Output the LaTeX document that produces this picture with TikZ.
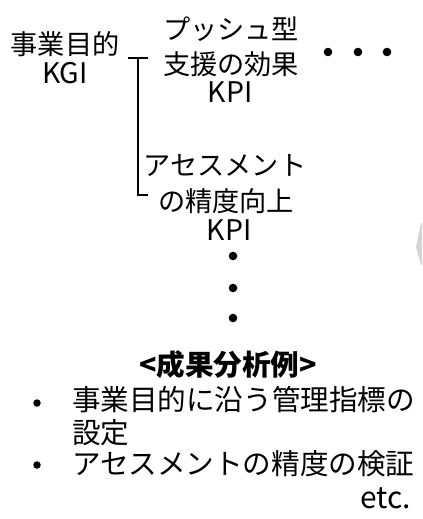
\documentclass[tikz,border=0pt]{standalone}
\usepackage{fontspec}
\setmainfont{Noto Sans CJK JP}
\definecolor{sliver}{RGB}{212,212,212}
\begin{document}
\begin{tikzpicture}[x=1bp,y=-1bp,
  lbl/.style={inner sep=0pt,outer sep=0pt,anchor=base,font=\fontsize{27.3}{30}\selectfont},
  lst/.style={inner sep=0pt,outer sep=0pt,anchor=base west,font=\fontsize{28.7}{32}\selectfont},
  bigdot/.style={circle,fill=black,inner sep=0pt,minimum size=8.6bp},
  smalldot/.style={circle,fill=black,inner sep=0pt,minimum size=7.5bp},
  brk/.style={line width=2bp,black}]
\useasboundingbox (0,0) rectangle (422,519);
% KGI block
\node[lbl] (kgi1) at (65,55) {事業目的};
\node[lbl,font=\fontsize{28.5}{30}\selectfont] (kgi2) at (65,84) {KGI};
% KPI block 1
\node[lbl] (pa1) at (231,40) {プッシュ型};
\node[lbl] (pa2) at (231,75) {支援の効果};
\node[lbl,font=\fontsize{28.5}{30}\selectfont] (pa3) at (230,103) {KPI};
% KPI block 2
\node[lbl] (pb1) at (225,176) {アセスメント};
\node[lbl] (pb2) at (226,211) {の精度向上};
\node[lbl,font=\fontsize{28.5}{30}\selectfont] (pb3) at (229,240) {KPI};
% bracket
\coordinate (ba) at (128,58);
\coordinate (bb) at (148,58);
\coordinate (bt) at (137.5,58);
\coordinate (bd) at (137.5,195);
\coordinate (be) at (148,195);
\draw[brk] (ba) -- (bb);
\draw[brk] (bt) -- (bd) -- (be);
% horizontal dots
\node[bigdot] (h1) at (328,52) {};
\node[bigdot] (h2) at (358,52) {};
\node[bigdot] (h3) at (387,52) {};
% vertical dots
\node[bigdot] (v1) at (233,256) {};
\node[bigdot] (v2) at (233,288) {};
\node[bigdot] (v3) at (233,318) {};
% analysis examples
\node[lbl,font=\fontsize{28.7}{32}\selectfont\bfseries] (head) at (228,375) {<成果分析例>};
\node[smalldot] (bl1) at (37,403) {};
\node[lst] (l1) at (72,410) {事業目的に沿う管理指標の};
\node[lst] (l1b) at (72,443) {設定};
\node[smalldot] (bl2) at (37,465) {};
\node[lst] (l2) at (72,474) {アセスメントの精度の検証};
\node[lst,anchor=base east,font=\fontsize{30}{32}\selectfont] (etc) at (411,508) {etc.};
% partial grey shape at right edge
\fill[sliver] (421,223) -- (416,247) -- (421,265) -- (422,265) -- (422,223) -- cycle;
\end{tikzpicture}
\end{document}
